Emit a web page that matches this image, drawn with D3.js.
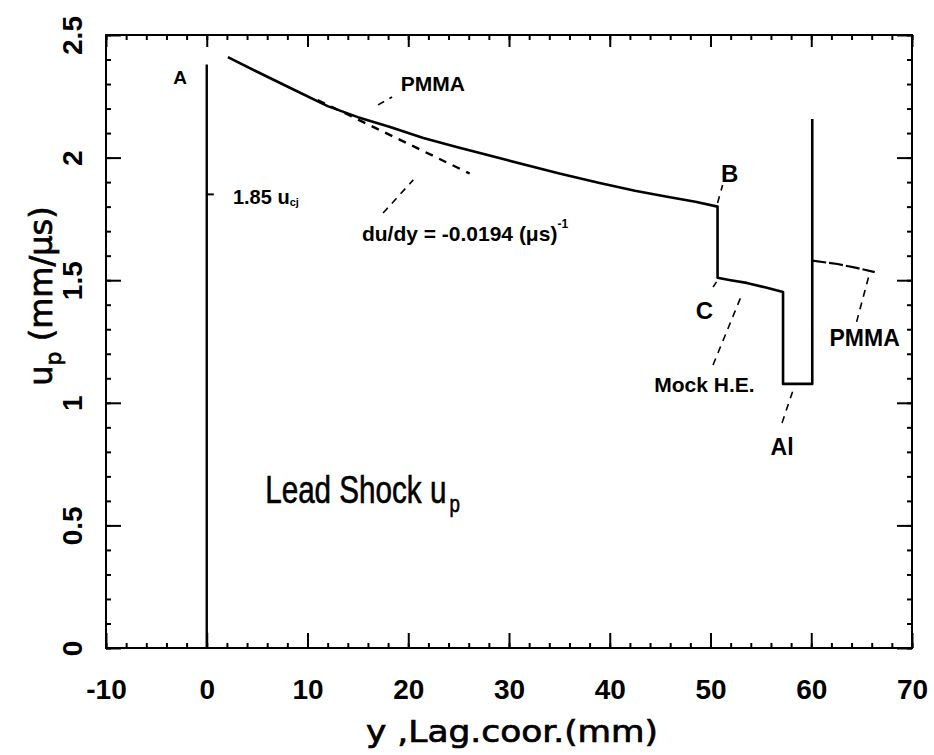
<!DOCTYPE html>
<html><head><meta charset="utf-8">
<script src="https://cdn.jsdelivr.net/npm/d3@7"></script>
<style>body{margin:0;background:#fff}svg{display:block}</style>
</head><body>
<svg id="c" width="934" height="755"></svg>
<script>
// ---- data ----
const xTicks = [-10, 0, 10, 20, 30, 40, 50, 60, 70];
const yTicks = [0, 0.5, 1, 1.5, 2, 2.5];
const yTickLabels = ["0", "0.5", "1", "1.5", "2", "2.5"];
// lead shock particle velocity, PMMA region (A -> B)
const pmmaY = [2.1, 5, 8.3, 12, 15, 18.2, 21.5, 24.8, 29.8, 35, 39, 42.5, 45.7, 48.5, 50.7];
const pmmaU = [2.41, 2.35, 2.284, 2.21, 2.165, 2.125, 2.08, 2.043, 1.99, 1.935, 1.896, 1.865, 1.84, 1.82, 1.80];
// mock H.E. region (C -> ...)
const mockY = [50.7, 52, 53.6, 55.5, 57.2];
const mockU = [1.51, 1.50, 1.489, 1.47, 1.452];
// Al region
const alY = [57.2, 57.2, 60.1, 60.1];
const alU = [1.452, 1.077, 1.077, 2.157];
// second PMMA region
const pmma2Y = [60.1, 62.6, 64.5, 66.3];
const pmma2U = [1.58, 1.566, 1.55, 1.533];
// initial gradient (dashed)
const gradY = [11, 26.1];
const gradU = [2.235, 1.935];
// interface line at y = 0
const wallY = [0, 0];
const wallU = [0, 2.38];
const cjLevel = 1.85;

// ---- scales ----
const svg = d3.select("#c");
const x = d3.scaleLinear().domain([-10, 70]).range([106, 912]);
const y = d3.scaleLinear().domain([0, 2.5]).range([648, 35]);
const line = d3.line().x(d => x(d[0])).y(d => y(d[1]));
const zip = (a, b) => a.map((v, i) => [v, b[i]]);

const tickFont = "'Liberation Sans', Arial, sans-serif";
const lblFont = "'Liberation Sans', Arial, sans-serif";

// minor ticks
const xMinor = d3.range(-10, 70.01, 2);
const yMinor = d3.range(0, 2.501, 0.1);

function styleAxis(g) {
  g.select(".domain").remove();
  g.selectAll("line").attr("stroke", "#000").attr("stroke-width", 2);
}
// bottom
svg.append("g").attr("transform", `translate(0,${y(0)})`)
  .call(d3.axisBottom(x).tickValues(xMinor).tickSize(-5).tickFormat("")).call(styleAxis);
const bx = svg.append("g").attr("transform", `translate(0,${y(0)})`)
  .call(d3.axisBottom(x).tickValues(xTicks).tickSize(-15).tickPadding(31).tickFormat(d => String(d)))
  .call(styleAxis);
bx.selectAll("text").attr("font-family", tickFont).attr("font-weight", "bold")
  .attr("font-size", 28).attr("fill", "#000");
// top
svg.append("g").attr("transform", `translate(0,${y(2.5)})`)
  .call(d3.axisTop(x).tickValues(xMinor).tickSize(-5).tickFormat("")).call(styleAxis);
svg.append("g").attr("transform", `translate(0,${y(2.5)})`)
  .call(d3.axisTop(x).tickValues(xTicks).tickSize(-12).tickFormat("")).call(styleAxis);
// left
svg.append("g").attr("transform", `translate(${x(-10)},0)`)
  .call(d3.axisLeft(y).tickValues(yMinor).tickSize(-5).tickFormat("")).call(styleAxis);
const ly = svg.append("g").attr("transform", `translate(${x(-10)},0)`)
  .call(d3.axisLeft(y).tickValues(yTicks).tickSize(-15).tickFormat((d, i) => yTickLabels[i]))
  .call(styleAxis);
ly.selectAll("text").attr("x", 0).attr("dy", 0).attr("text-anchor", "middle")
  .attr("transform", "translate(-24,0) rotate(-90)")
  .attr("font-family", tickFont).attr("font-weight", "bold").attr("font-size", 28).attr("fill", "#000");
// right
svg.append("g").attr("transform", `translate(${x(70)},0)`)
  .call(d3.axisRight(y).tickValues(yMinor).tickSize(-5).tickFormat("")).call(styleAxis);
svg.append("g").attr("transform", `translate(${x(70)},0)`)
  .call(d3.axisRight(y).tickValues(yTicks).tickSize(-15).tickFormat("")).call(styleAxis);

// frame
svg.append("rect").attr("x", x(-10)).attr("y", y(2.5))
  .attr("width", x(70) - x(-10)).attr("height", y(0) - y(2.5))
  .attr("fill", "none").attr("stroke", "#000").attr("stroke-width", 2);

// data lines
const main = zip(pmmaY, pmmaU).concat(zip(mockY, mockU)).concat(zip(alY, alU));
svg.append("path").attr("d", line(main)).attr("fill", "none").attr("stroke", "#000")
  .attr("stroke-width", 2.6).attr("stroke-linejoin", "round");
svg.append("path").attr("d", line(zip(pmma2Y, pmma2U))).attr("fill", "none").attr("stroke", "#000")
  .attr("stroke-width", 2.2).attr("stroke-dasharray", "14,3");
svg.append("path").attr("d", line(zip(gradY, gradU))).attr("fill", "none").attr("stroke", "#000")
  .attr("stroke-width", 2.4).attr("stroke-dasharray", "8,7");
svg.append("path").attr("d", line(zip(wallY, wallU))).attr("fill", "none").attr("stroke", "#000")
  .attr("stroke-width", 2.4);
// 1.85 u_cj marker
svg.append("line").attr("x1", x(0)).attr("x2", x(0) + 7).attr("y1", y(cjLevel)).attr("y2", y(cjLevel))
  .attr("stroke", "#000").attr("stroke-width", 2);

// leader lines (dashed)
const leaders = [
  [[17.0, 2.215], [18.4, 2.247]],
  [[17.5, 1.774], [20.5, 1.909]],
  [[50.7, 1.815], [51.2, 1.888]],
  [[50.25, 1.472], [50.6, 1.493]],
  [[50.25, 1.154], [53.1, 1.44]],
  [[57.1, 0.918], [58.2, 1.052]],
  [[64.5, 1.33], [65.8, 1.53]]
];
leaders.forEach(l => svg.append("path").attr("d", line(l)).attr("fill", "none")
  .attr("stroke", "#000").attr("stroke-width", 1.6).attr("stroke-dasharray", "7,6"));

// annotation labels
function label(txt, dx, du, size, anchor) {
  return svg.append("text").attr("x", x(dx)).attr("y", y(du)).attr("dominant-baseline", "central")
    .attr("text-anchor", anchor || "middle").attr("font-family", lblFont).attr("font-weight", "bold")
    .attr("font-size", size).attr("fill", "#000").text(txt);
}
label("A", -2.65, 2.325, 19);
label("PMMA", 22.45, 2.304, 21);
label("B", 51.9, 1.937, 24);
label("C", 49.4, 1.378, 24);
label("Mock H.E.", 49.4, 1.073, 21);
label("Al", 57.1, 0.82, 23);
label("PMMA", 65.3, 1.264, 23);
const cj = label("1.85  u", 2.6, 1.839, 20, "start");
cj.append("tspan").attr("font-size", 11).attr("dy", 5).text("cj");
const dd = label("du/dy = -0.0194 (\u03bcs)", 15.4, 1.692, 21, "start");
dd.append("tspan").attr("font-size", 12).attr("dy", -9).text("-1");

// Lead shock title (horizontally condensed)
const ls = svg.append("text")
  .attr("transform", `translate(${x(5.8)},${y(0.59)}) scale(0.78,1)`)
  .attr("font-family", lblFont)
  .attr("font-size", 38).attr("fill", "#000").attr("stroke", "#000").attr("stroke-width", 0.6);
ls.append("tspan").text("Lead Shock u");
ls.append("tspan").attr("font-size", 24).attr("dx", 4).attr("dy", 9).text("p");

// axis titles
svg.append("text").attr("x", 512).attr("y", 742).attr("text-anchor", "middle")
  .attr("font-family", "'DejaVu Sans', sans-serif").attr("font-size", 30).attr("fill", "#000")
  .attr("stroke", "#000").attr("stroke-width", 0.7)
  .attr("textLength", 292).attr("lengthAdjust", "spacingAndGlyphs").text("y ,Lag.coor.(mm)");
const yt = svg.append("text").attr("transform", "translate(52,296) rotate(-90)").attr("text-anchor", "middle")
  .attr("font-family", "'DejaVu Sans', sans-serif").attr("font-size", 32).attr("fill", "#000")
  .attr("stroke", "#000").attr("stroke-width", 0.7);
yt.append("tspan").text("u");
yt.append("tspan").attr("font-size", 22).attr("dy", 9).text("p");
yt.append("tspan").attr("dy", -9).text(" (mm/\u03bcs)");
</script>
</body></html>
